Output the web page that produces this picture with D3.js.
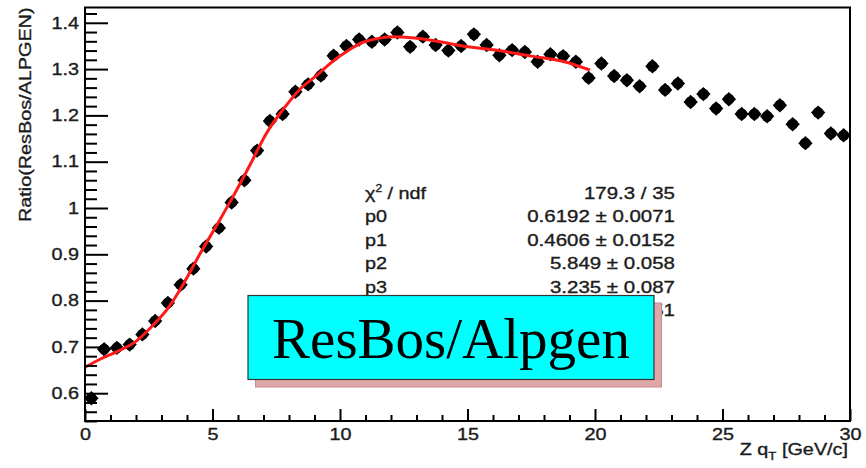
<!DOCTYPE html>
<html>
<head>
<meta charset="utf-8">
<script src="https://cdn.jsdelivr.net/npm/d3@7"></script>
<style>
  body { margin: 0; background: #fff; }
  svg { display: block; }
</style>
</head>
<body>
<svg id="chart" width="866" height="468"></svg>
<script>
// Bin centres in Z qT [GeV/c] (0.5 GeV bins)
const binCenters = [
  0.25, 0.75, 1.25, 1.75, 2.25, 2.75, 3.25, 3.75, 4.25, 4.75,
  5.25, 5.75, 6.25, 6.75, 7.25, 7.75, 8.25, 8.75, 9.25, 9.75,
  10.25, 10.75, 11.25, 11.75, 12.25, 12.75, 13.25, 13.75, 14.25, 14.75,
  15.25, 15.75, 16.25, 16.75, 17.25, 17.75, 18.25, 18.75, 19.25, 19.75,
  20.25, 20.75, 21.25, 21.75, 22.25, 22.75, 23.25, 23.75, 24.25, 24.75,
  25.25, 25.75, 26.25, 26.75, 27.25, 27.75, 28.25, 28.75, 29.25, 29.75
];

// Ratio ResBos / ALPGEN per bin
const ratio = [
  0.589, 0.695, 0.698, 0.705, 0.727, 0.756, 0.795, 0.834, 0.869, 0.917,
  0.957, 1.012, 1.060, 1.124, 1.188, 1.203, 1.251, 1.267, 1.286, 1.329,
  1.350, 1.364, 1.359, 1.364, 1.379, 1.348, 1.370, 1.352, 1.340, 1.350,
  1.375, 1.352, 1.330, 1.341, 1.337, 1.316, 1.332, 1.328, 1.316, 1.281,
  1.312, 1.285, 1.276, 1.263, 1.306, 1.255, 1.269, 1.229, 1.246, 1.215,
  1.235, 1.203, 1.203, 1.198, 1.222, 1.181, 1.140, 1.206, 1.161, 1.157
];

// Fitted curve, evaluated over the fit range 0-20 GeV/c
const fitX = [0, 0.65, 1.3, 2.0, 2.6, 3.3, 3.9, 4.5, 5.2, 5.8, 6.5, 7.1, 7.8,
              8.4, 9.1, 9.7, 10.4, 10.9, 12.2, 13.5, 14.8, 16.1, 17.5, 18.8, 19.8];
const fitY = [0.656, 0.675, 0.691, 0.712, 0.743, 0.787, 0.840, 0.900, 0.966, 1.024,
              1.096, 1.160, 1.215, 1.255, 1.287, 1.316, 1.343, 1.358, 1.370, 1.363,
              1.350, 1.341, 1.328, 1.316, 1.298];

// Axis ticks and labels
const xTicks = [0, 5, 10, 15, 20, 25, 30];
const xTickLabels = ["0", "5", "10", "15", "20", "25", "30"];
const yTicks = [0.6, 0.7, 0.8, 0.9, 1.0, 1.1, 1.2, 1.3, 1.4];
const yTickLabels = ["0.6", "0.7", "0.8", "0.9", "1", "1.1", "1.2", "1.3", "1.4"];

// Fit statistics
const statNames = ["\u03C7", "p0", "p1", "p2", "p3", "p4"];
const statValues = ["179.3 / 35", "0.6192 \u00B1 0.0071", "0.4606 \u00B1 0.0152",
                    "5.849 \u00B1 0.058", "3.235 \u00B1 0.087", "-0.01458 \u00B1 0.00051"];

const titleText = "ResBos/Alpgen";

// ---------------------------------------------------------------
const svg = d3.select("#chart");
const FONT = "'Liberation Sans', Arial, Helvetica, sans-serif";
const INK = "#1c1c1c";
const STRETCH = 1.2;

const frame = { left: 85, right: 850, top: 7.5, bottom: 421 };

const x = d3.scaleLinear().domain([0, 30]).range([frame.left, frame.right]);
const y = d3.scaleLinear().domain([0.540, 1.433]).range([frame.bottom, frame.top]);

// widen text glyphs horizontally along their baseline
function stretch(sel, k = STRETCH) {
  sel.each(function () {
    const len = this.getComputedTextLength();
    d3.select(this).attr("textLength", len * k).attr("lengthAdjust", "spacingAndGlyphs");
  });
}

// slightly heavier sans text
function ink(sel) {
  return sel.attr("font-family", FONT).attr("font-size", 16.5)
    .attr("fill", INK).attr("stroke", INK).attr("stroke-width", 0.35);
}

// ---- markers (drawn first, fit line goes on top)
const pts = svg.append("g").attr("class", "points")
  .selectAll("g").data(binCenters.map((c, i) => ({ x: c, y: ratio[i] })))
  .join("g")
  .attr("transform", d => `translate(${x(d.x)},${y(d.y)})`);
pts.append("circle").attr("r", 5.5).attr("fill", "#000");
pts.append("path").attr("d", "M0,-7.2L7.2,0L0,7.2L-7.2,0Z").attr("fill", "#000");

// ---- fit curve
const line = d3.line().x((d, i) => x(fitX[i])).y(d => y(d)).curve(d3.curveMonotoneX);
svg.append("path")
  .datum(fitY)
  .attr("d", line)
  .attr("fill", "none")
  .attr("stroke", "#ff1a1a")
  .attr("stroke-width", 3)
  .attr("stroke-linejoin", "round");

// ---- axes
const yMinor = d3.range(0.54, 1.433, 0.02).map(v => +v.toFixed(2))
  .filter(v => y(v) <= frame.bottom && Math.abs(v * 10 - Math.round(v * 10)) > 1e-6);
const xMinor = d3.range(0, 31, 1).filter(v => v % 5 !== 0);

const yAxis = svg.append("g").attr("transform", `translate(${frame.left},0)`)
  .call(d3.axisLeft(y).tickValues(yTicks).tickSize(-23).tickPadding(6)
    .tickFormat((d, i) => yTickLabels[i]));
svg.append("g").attr("transform", `translate(${frame.left},0)`)
  .call(d3.axisLeft(y).tickValues(yMinor).tickSize(-12).tickFormat(""));

const xAxis = svg.append("g").attr("transform", `translate(0,${frame.bottom})`)
  .call(d3.axisBottom(x).tickValues(xTicks).tickSize(-12).tickPadding(7)
    .tickFormat((d, i) => xTickLabels[i]));
svg.append("g").attr("transform", `translate(0,${frame.bottom})`)
  .call(d3.axisBottom(x).tickValues(xMinor).tickSize(-6).tickFormat(""));

svg.selectAll(".domain").remove();
svg.selectAll(".tick line").attr("stroke", "#000").attr("stroke-width", 2);
ink(svg.selectAll(".tick text"));
stretch(yAxis.selectAll(".tick text"));
stretch(xAxis.selectAll(".tick text"));

// ---- frame
svg.append("rect")
  .attr("x", frame.left).attr("y", frame.top)
  .attr("width", frame.right - frame.left).attr("height", frame.bottom - frame.top)
  .attr("fill", "none").attr("stroke", "#000").attr("stroke-width", 2);

// ---- axis titles
const yTitle = ink(svg.append("text"))
  .attr("transform", `translate(31,${frame.top}) rotate(-90)`)
  .attr("text-anchor", "end")
  .text("Ratio(ResBos/ALPGEN)");
stretch(yTitle);

const xTitle = ink(svg.append("text"))
  .attr("x", 848).attr("y", 455)
  .attr("text-anchor", "end");
xTitle.append("tspan").text("Z q");
xTitle.append("tspan").attr("font-size", 11).attr("dy", 5).text("T");
xTitle.append("tspan").attr("dy", -5).text(" [GeV/c]");
stretch(xTitle);

// ---- fit statistics
const statTop = 199, statStep = 23.4;
const stats = ink(svg.append("g"));
statNames.forEach((name, i) => {
  const t = stats.append("text").attr("x", 365).attr("y", statTop + i * statStep);
  if (i === 0) {
    t.append("tspan").text(name);
    t.append("tspan").attr("font-size", 10).attr("dy", -7).text("2");
    t.append("tspan").attr("dy", 7).text(" / ndf");
  } else {
    t.text(name);
  }
  stretch(t);
  const v = stats.append("text").attr("x", 675).attr("y", statTop + i * statStep)
    .attr("text-anchor", "end").text(statValues[i]);
  stretch(v, 1.24);
});

// ---- title pave with shadow
const pave = { x0: 248, y0: 295.5, x1: 654, y1: 379.5, shadow: 7.5 };
svg.append("rect")
  .attr("x", pave.x0 + pave.shadow).attr("y", pave.y0 + pave.shadow)
  .attr("width", pave.x1 - pave.x0).attr("height", pave.y1 - pave.y0)
  .attr("fill", "#dfa8a8").attr("stroke", "#c98a8a").attr("stroke-width", 1);
svg.append("rect")
  .attr("x", pave.x0).attr("y", pave.y0)
  .attr("width", pave.x1 - pave.x0).attr("height", pave.y1 - pave.y0)
  .attr("fill", "#00ffff").attr("stroke", "#333").attr("stroke-width", 1.2);
svg.append("text")
  .attr("x", (pave.x0 + pave.x1) / 2).attr("y", 358)
  .attr("text-anchor", "middle")
  .attr("font-family", "'Liberation Serif', 'Times New Roman', serif")
  .attr("font-size", 57).attr("fill", "#000")
  .text(titleText);
</script>
</body>
</html>
